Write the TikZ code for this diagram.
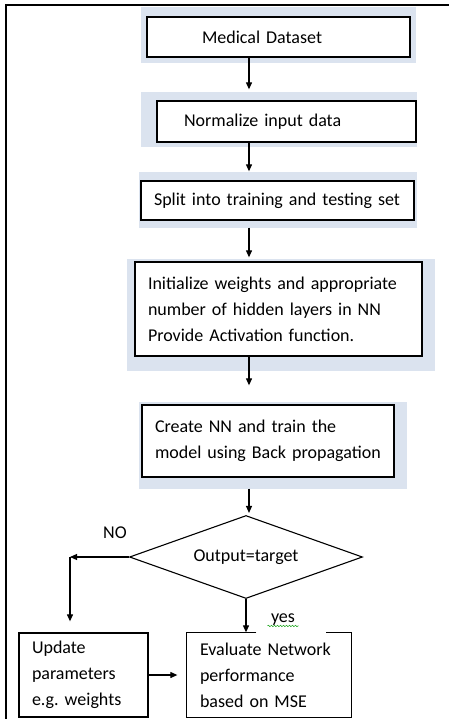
\documentclass[tikz,border=0pt]{standalone}
\usepackage{fontspec}
\setmainfont{Carlito}
\usetikzlibrary{positioning, shapes.geometric, arrows.meta, backgrounds, calc, decorations.pathmorphing}
\definecolor{shadowblue}{RGB}{219,227,239}

\begin{document}
\begin{tikzpicture}[
 x=1pt, y=-1pt,
 font=\fontsize{18}{26}\selectfont,
 >={Triangle[width=6pt,length=7pt]},
 every edge/.style={draw, line width=1.1pt},
 block/.style={draw, line width=1.3pt, fill=white, rectangle, inner xsep=13pt, inner ysep=0pt, align=left},
 decision/.style={draw, line width=1.1pt, diamond, aspect=2.8, inner sep=0pt},
 shadebox/.style={fill=shadowblue}
]
 \useasboundingbox (0,0) rectangle (449,719);

 % outer frame (left and top only)
 \draw[line width=1.3pt] (6,719) -- (6,5) -- (449,5);

 % main column of steps
 \node[block, text width=237pt, minimum height=40pt] (data) at (278.5,37) {\hspace*{42pt}Medical Dataset};
 \node[block, text width=233pt, minimum height=41pt] (norm) at (286.5,121.5) {\hspace*{14pt}Normalize input data};
 \node[block, text width=247pt, minimum height=39pt] (split) at (277.5,200.5) {Split into training and testing set};
 \node[block, text width=261pt, minimum height=94pt] (init) at (278.5,309) {Initialize weights and appropriate\\number of hidden layers in NN\\Provide Activation function.};
 \node[block, text width=226pt, minimum height=72pt] (train) at (268,441) {Create NN and train the\\model using Back propagation};
 \node[decision, minimum width=233pt, minimum height=83pt] (check) at (246,557) {Output=target};

 % bottom row
 \node[block, text width=103pt, minimum height=84pt] (update) at (83.5,675) {Update\\parameters\\e.g.\ weights};
 \node[block, draw=none, text width=138pt, minimum height=84pt] (eval) at (269,675) {Evaluate Network\\performance\\based on MSE};
 \draw[line width=1.3pt] ([xshift=70pt]eval.north west) -- (eval.north west) -- (eval.south west)
 -- (eval.south east) -- (eval.north east) -- ([xshift=-26pt]eval.north east);

 % labels
 \node (nolbl) at (115,533) {NO};
 \node (yeslbl) at (283,620) {yes};
 \draw[green!60!black, decorate, decoration={snake, amplitude=0.8pt, segment length=3pt}]
 ([yshift=-3pt]yeslbl.base west) -- ([yshift=-3pt]yeslbl.base east);

 % light shadows behind the boxes
 \begin{scope}[on background layer]
 \fill[shadebox] ($(data.north west)+(-5,-9)$) rectangle ($(data.south east)+(5,5)$);
 \fill[shadebox] ($(norm.north west)+(-15,-8)$) rectangle ($(norm.south east)+(0,4)$);
 \fill[shadebox] ($(split.north west)+(-1,-8)$) rectangle ($(split.south east)+(2,7)$);
 \fill[shadebox] ($(init.north west)+(-7,-2)$) rectangle ($(init.south east)+(12,14)$);
 \fill[shadebox] ($(train.north west)+(-2,-2)$) rectangle ($(train.south east)+(12,11)$);
 \end{scope}

 \coordinate (axis) at (249,0);
 \coordinate (noturn) at (70,557);

 \path[->]
 (data.south -| axis) edge[shorten >=11pt] (norm.north -| axis)
 (norm.south -| axis) edge[shorten >=9pt] (split.north -| axis)
 (split.south -| axis) edge[shorten <=7pt, shorten >=4pt] (init.north -| axis)
 (init.south -| axis) edge[shorten >=19pt] (train.north -| axis)
 (train.south -| axis) edge[shorten <=11pt, shorten >=2pt] (check.north -| axis)
 % no: go back and update
 (check.west) edge (noturn)
 (noturn) edge[shorten >=11pt] (noturn |- update.north)
 % yes: evaluate
 (check.south) edge (check.south |- eval.north)
 (update.east) edge[shorten >=9pt] (eval.west);
\end{tikzpicture}
\end{document}
